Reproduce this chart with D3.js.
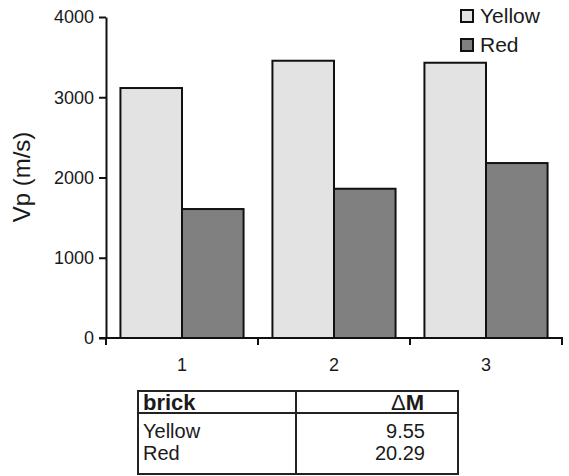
<!DOCTYPE html>
<html>
<head>
<meta charset="utf-8">
<script src="https://cdn.jsdelivr.net/npm/d3@7"></script>
<style>
  body { margin: 0; background: #fff; }
  svg text { font-family: "Liberation Sans", Arial, sans-serif; fill: #1a1a1a; }
</style>
</head>
<body>
<svg id="chart" width="569" height="476"></svg>
<script>
// data
categories = ["1", "2", "3"];
series = ["Yellow", "Red"];
yellow_vals = [3115, 3455, 3430];
red_vals = [1607, 1860, 2180];
y_ticks = [0, 1000, 2000, 3000, 4000];
table_head = ["brick", "M"];
table_bricks = ["Yellow", "Red"];
table_dm = ["9.55", "20.29"];

colors = {Yellow: "#e3e3e3", Red: "#808080"};

svg = d3.select("#chart");

x0 = d3.scaleBand().domain(categories).range([106, 562]).paddingInner(0.19).paddingOuter(0.095);
x1 = d3.scaleBand().domain(series).range([0, x0.bandwidth()]);
y = d3.scaleLinear().domain([0, 4000]).range([338, 17]);

bar_data = [];
categories.forEach((c, i) => {
    bar_data.push({cat: c, s: "Yellow", v: yellow_vals[i]});
    bar_data.push({cat: c, s: "Red", v: red_vals[i]});
});

svg.selectAll(".bar")
    .data(bar_data)
    .join("rect")
    .attr("class", "bar")
    .attr("x", d => x0(d.cat) + x1(d.s))
    .attr("y", d => y(d.v))
    .attr("width", x1.bandwidth())
    .attr("height", d => y(0) - y(d.v))
    .attr("fill", d => colors[d.s])
    .attr("stroke", "#111")
    .attr("stroke-width", 2);

// y axis
yAxis = svg.append("g")
    .attr("transform", "translate(106,0)")
    .call(d3.axisLeft(y).tickValues(y_ticks).tickFormat(d3.format("d"))
        .tickSize(7).tickSizeOuter(0).tickPadding(5));
yAxis.select(".domain").attr("stroke", "#111").attr("stroke-width", 2);
yAxis.selectAll(".tick line").attr("stroke", "#111").attr("stroke-width", 2);
yAxis.selectAll(".tick text").style("font-size", "18px").attr("fill", "#1a1a1a");

// x axis: ticks at band boundaries, labels at band centers
half_gap = x0.step() * x0.paddingInner() / 2;
bounds = categories.map(c => x0(c) - half_gap);
bounds.push(x0(categories[categories.length - 1]) + x0.bandwidth() + half_gap);

svg.append("line")
    .attr("x1", 99).attr("x2", bounds[bounds.length - 1] + 1)
    .attr("y1", y(0)).attr("y2", y(0))
    .attr("stroke", "#111").attr("stroke-width", 2);

svg.selectAll(".xtick")
    .data(bounds)
    .join("line")
    .attr("class", "xtick")
    .attr("x1", d => d).attr("x2", d => d)
    .attr("y1", y(0)).attr("y2", y(0) + 7)
    .attr("stroke", "#111").attr("stroke-width", 2);

svg.selectAll(".xlabel")
    .data(categories)
    .join("text")
    .attr("class", "xlabel")
    .attr("x", d => x0(d) + x0.bandwidth() / 2)
    .attr("y", 371)
    .attr("text-anchor", "middle")
    .style("font-size", "18px")
    .text(d => d);

// y label
svg.append("text")
    .attr("transform", "translate(30,177) rotate(-90)")
    .attr("text-anchor", "middle")
    .style("font-size", "24px")
    .text("Vp (m/s)");

// legend
legend = svg.selectAll(".legend")
    .data(series)
    .join("g")
    .attr("class", "legend")
    .attr("transform", (d, i) => `translate(461,${10 + i * 29})`);
legend.append("rect")
    .attr("width", 12).attr("height", 12)
    .attr("fill", d => colors[d])
    .attr("stroke", "#111").attr("stroke-width", 2);
legend.append("text")
    .attr("x", 19).attr("y", 13)
    .style("font-size", "21px")
    .text(d => d);

// table
tb = svg.append("g");
tb.append("rect")
    .attr("x", 138).attr("y", 391).attr("width", 320).attr("height", 83)
    .attr("fill", "none").attr("stroke", "#222").attr("stroke-width", 2);
tb.append("line").attr("x1", 138).attr("x2", 458).attr("y1", 413).attr("y2", 413)
    .attr("stroke", "#222").attr("stroke-width", 2);
tb.append("line").attr("x1", 296).attr("x2", 296).attr("y1", 391).attr("y2", 474)
    .attr("stroke", "#222").attr("stroke-width", 2);

tb.append("text").attr("x", 143).attr("y", 410)
    .style("font-size", "22px").style("font-weight", "bold")
    .text(table_head[0]);
dm = tb.append("text").attr("x", 424).attr("y", 410)
    .attr("text-anchor", "end").style("font-size", "22px");
dm.append("tspan").text("\u0394");
dm.append("tspan").style("font-weight", "bold").text(table_head[1]);

tb.selectAll(".tname")
    .data(table_bricks)
    .join("text")
    .attr("class", "tname")
    .attr("x", 143)
    .attr("y", (d, i) => 438 + i * 22)
    .style("font-size", "20px")
    .text(d => d);
tb.selectAll(".tval")
    .data(table_dm)
    .join("text")
    .attr("class", "tval")
    .attr("x", 425)
    .attr("y", (d, i) => 438 + i * 22)
    .attr("text-anchor", "end")
    .style("font-size", "20px")
    .text(d => d);
</script>
</body>
</html>
